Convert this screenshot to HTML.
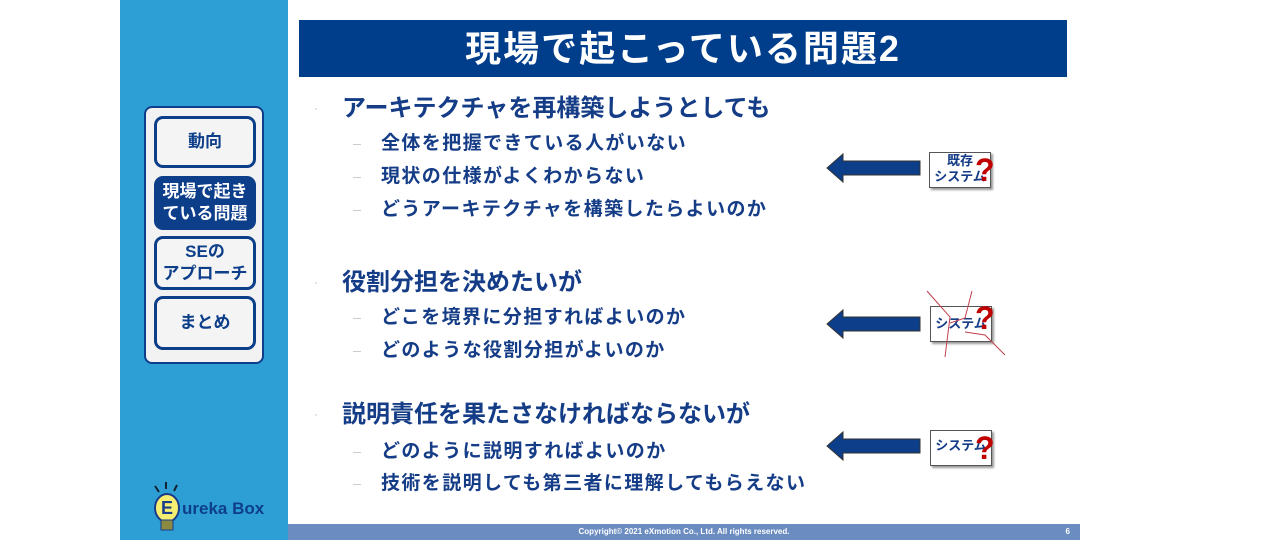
<!DOCTYPE html>
<html><head><meta charset="utf-8"><style>
body{margin:0;width:1280px;height:540px;background:#fff;position:relative;overflow:hidden;font-family:"Liberation Sans","Noto Sans CJK JP",sans-serif;}
.a{position:absolute;}
.side{left:120px;top:0;width:168px;height:540px;background:#2E9FD4;}
.title{left:299px;top:20px;width:768px;height:57px;background:#003E8C;color:#fff;font-size:36px;letter-spacing:2px;font-weight:bold;text-align:center;line-height:57px;}
.foot{left:288px;top:524px;width:792px;height:16px;background:#6A8CC0;color:#fff;font-size:8px;font-weight:bold;line-height:16px;text-align:center;}
.panel{left:144px;top:106px;width:116px;height:254px;background:#F2F2F2;border:2px solid #0D3E8A;border-radius:8px;}
.btn{left:154px;width:96px;border:3px solid #0D3E8A;border-radius:9px;background:#F4F4F4;color:#0D3E8A;font-weight:bold;font-size:17px;text-align:center;display:flex;align-items:center;justify-content:center;line-height:22px;}
.m{left:342px;font-size:24px;font-weight:bold;color:#153C86;white-space:nowrap;line-height:30px;}
.s{left:381px;font-size:19px;font-weight:bold;color:#153C86;white-space:nowrap;line-height:26px;letter-spacing:1.4px;}
.dot{left:314px;color:#bbb;font-size:12px;}
.dash{left:353px;width:8px;height:1px;background:#ccc;}
.box{width:60px;height:34px;border:1px solid #555;background:#fff;box-shadow:2px 2px 2px #999;color:#153C86;font-size:13px;font-weight:bold;text-align:center;line-height:16px;}
.q{color:#C00000;font-size:32px;font-weight:bold;}
</style></head><body>
<div class="a side"></div>
<div class="a panel"></div>
<div class="a btn" style="top:116px;height:46px">動向</div>
<div class="a btn" style="top:176px;height:48px;background:#0D3E8A;color:#fff">現場で起き<br>ている問題</div>
<div class="a btn" style="top:236px;height:48px">SEの<br>アプローチ</div>
<div class="a btn" style="top:296px;height:48px">まとめ</div>
<svg class="a" style="left:145px;top:480px" width="120" height="60">
<line x1="10" y1="6" x2="14" y2="12" stroke="#123" stroke-width="2"/><line x1="21" y1="2" x2="21" y2="9" stroke="#123" stroke-width="2"/><line x1="32" y1="5" x2="29" y2="11" stroke="#123" stroke-width="2"/>
<ellipse cx="22" cy="28" rx="12" ry="14" fill="#F5EE70" stroke="#1A3C8A" stroke-width="2"/>
<rect x="16" y="40" width="12" height="10" fill="#8a8a40" stroke="#1A3C8A"/>
<text x="16" y="34" font-size="18" font-weight="bold" fill="#1A3C8A" font-family="Liberation Sans">E</text>
<text x="37" y="34" font-size="17" font-weight="bold" fill="#0D3E8A" font-family="Liberation Sans">ureka Box</text>
</svg>
<div class="a title">現場で起こっている問題2</div>
<div class="a foot">Copyright© 2021 eXmotion Co., Ltd. All rights reserved.<span style="position:absolute;right:10px">6</span></div>

<div class="a dot" style="top:101px">·</div><div class="a m" style="top:94px">アーキテクチャを再構築しようとしても</div>
<div class="a dash" style="top:144px"></div><div class="a s" style="top:131px">全体を把握できている人がいない</div>
<div class="a dash" style="top:177px"></div><div class="a s" style="top:164px">現状の仕様がよくわからない</div>
<div class="a dash" style="top:210px"></div><div class="a s" style="top:197px">どうアーキテクチャを構築したらよいのか</div>

<div class="a dot" style="top:275px">·</div><div class="a m" style="top:268px">役割分担を決めたいが</div>
<div class="a dash" style="top:318px"></div><div class="a s" style="top:305px">どこを境界に分担すればよいのか</div>
<div class="a dash" style="top:351px"></div><div class="a s" style="top:338px">どのような役割分担がよいのか</div>

<div class="a dot" style="top:407px">·</div><div class="a m" style="top:400px">説明責任を果たさなければならないが</div>
<div class="a dash" style="top:452px"></div><div class="a s" style="top:439px">どのように説明すればよいのか</div>
<div class="a dash" style="top:484px"></div><div class="a s" style="top:471px">技術を説明しても第三者に理解してもらえない</div>

<svg class="a" style="left:825px;top:150px" width="100" height="40"><polygon points="2,18 18,4 18,11 95,11 95,25 18,25 18,32" fill="#0D3E8A" stroke="#333" stroke-width="1"/></svg>
<svg class="a" style="left:825px;top:306px" width="100" height="40"><polygon points="2,18 18,4 18,11 95,11 95,25 18,25 18,32" fill="#0D3E8A" stroke="#333" stroke-width="1"/></svg>
<svg class="a" style="left:825px;top:428px" width="100" height="40"><polygon points="2,18 18,4 18,11 95,11 95,25 18,25 18,32" fill="#0D3E8A" stroke="#333" stroke-width="1"/></svg>

<div class="a box" style="left:929px;top:152px">既存<br>システム</div>
<div class="a q" style="left:975px;top:152px">?</div>
<div class="a box" style="left:930px;top:306px;line-height:34px">システム</div>
<div class="a q" style="left:975px;top:300px">?</div>
<svg class="a" style="left:920px;top:285px" width="90" height="75"><g stroke="#C04050" stroke-width="1" fill="none"><polyline points="7,6 30,32 25,72"/><polyline points="52,6 45,33 30,38"/><polyline points="45,47 65,50 85,70"/></g></svg>
<div class="a box" style="left:930px;top:430px;line-height:30px">システム</div>
<div class="a q" style="left:975px;top:430px">?</div>
</body></html>
